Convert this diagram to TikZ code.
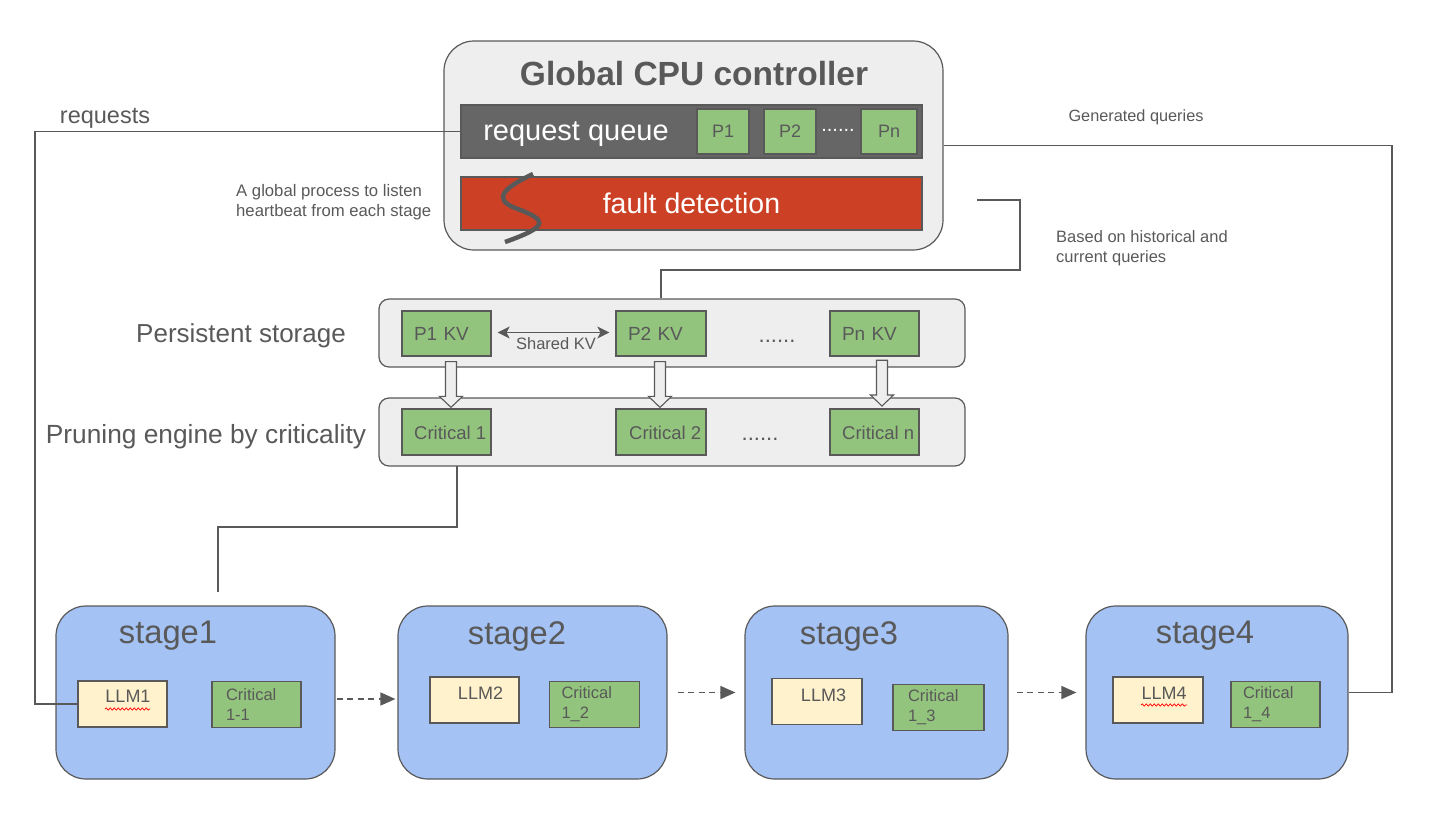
\documentclass[tikz,border=0pt]{standalone}
\usepackage{fontspec}
\setmainfont{Liberation Sans}
\usetikzlibrary{arrows.meta,calc,decorations.pathmorphing}
\definecolor{ln}{HTML}{595959}
\definecolor{panel}{HTML}{EEEEEE}
\definecolor{dkg}{HTML}{666666}
\definecolor{redbar}{HTML}{CC4125}
\definecolor{grn}{HTML}{93C47D}
\definecolor{blu}{HTML}{A4C2F4}
\definecolor{yel}{HTML}{FFF2CC}
\begin{document}
\begin{tikzpicture}[x=1pt,y=-1pt,
  box/.style={draw=ln, line width=1.2pt, inner sep=0pt, rectangle},
  panelbox/.style={box, fill=panel},
  pbox/.style={box, fill=grn, minimum height=45pt, text=ln, font=\fontsize{18}{21}\selectfont},
  kv/.style={box, fill=grn, minimum height=45pt, inner xsep=12pt, align=left, text=ln, font=\fontsize{19}{22}\selectfont},
  greenbox/.style={box, fill=grn, minimum height=46pt},
  crit/.style={box, fill=grn, minimum height=46pt, inner xsep=14pt, align=left, text=ln, font=\fontsize{16.5}{20}\selectfont},
  llm/.style={box, fill=yel, minimum width=89pt, minimum height=46pt},
  stagebox/.style={box, fill=blu, rounded corners=30pt, minimum height=173pt},
  lbl/.style={text=ln, inner sep=0pt},
  conn/.style={draw=ln, line width=1.3pt},
  dashconn/.style={draw=ln, line width=1.6pt, dash pattern=on 6pt off 4.5pt, -{Triangle[length=15pt,width=13pt]}},
  barrow/.style={draw=ln, line width=1.1pt, fill=panel, line join=miter},
  squig/.style={draw=red, line width=0.7pt, decorate, decoration={snake, amplitude=1.1pt, segment length=4pt}}
]
\useasboundingbox (0,0) rectangle (1432,822);

% ---- Global controller
\node[panelbox, rounded corners=30pt, minimum width=499pt, minimum height=209pt] (ctrl) at (693.5,145.5) {};
\node[lbl, font=\bfseries\fontsize{33.5}{38}\selectfont] (title) at (694,74) {Global CPU controller};
\node[box, fill=dkg, minimum width=461pt, minimum height=53pt] (queue) at (691.5,131.5) {};
\node[text=white, inner sep=0pt, font=\fontsize{29}{33}\selectfont] (qtxt) at (576,134) {request queue};
\node[pbox, minimum width=52pt] (p1) at (723,131.5) {P1};
\node[pbox, minimum width=52pt] (p2) at (790,131.5) {P2};
\node[text=white, inner sep=0pt, anchor=base, font=\fontsize{20}{22}\selectfont] (qdots) at (838,131) {......};
\node[pbox, minimum width=56pt] (pn) at (889,131.5) {Pn};
\node[box, fill=redbar, minimum width=461pt, minimum height=53pt, text=white, font=\fontsize{28.5}{32}\selectfont] (fault) at (691.5,203.5) {fault detection};
\draw[ln, line width=4.5pt] (533,174) .. controls (508,186) and (490,198) .. (515,208) .. controls (548,220) and (550,226) .. (505,242);

% ---- side labels
\node[lbl, font=\fontsize{23.5}{27}\selectfont] (req) at (105,118) {requests};
\node[lbl, font=\fontsize{16.3}{20}\selectfont] (gen) at (1136,117) {Generated queries};
\node[lbl, anchor=west, align=left, font=\fontsize{16.7}{20}\selectfont] (glob) at (236,202) {A global process to listen\\heartbeat from each stage};
\node[lbl, anchor=west, align=left, font=\fontsize{16.5}{20}\selectfont] (hist) at (1056,248) {Based on historical and\\current queries};

% ---- persistent storage
\node[panelbox, rounded corners=10pt, minimum width=586pt, minimum height=68pt] (ps) at (672,333) {};
\node[lbl, font=\fontsize{26}{30}\selectfont] (pslbl) at (241,336) {Persistent storage};
\node[kv, text width=65pt] (p1kv) at (446.5,333.5) {P1 KV};
\node[kv, text width=66pt] (p2kv) at (661,333.5) {P2 KV};
\node[lbl, anchor=base, font=\fontsize{22}{24}\selectfont] (psdots) at (777,342) {......};
\node[kv, text width=65pt] (pnkv) at (874.5,333.5) {Pn KV};
\draw[conn, {Stealth[length=12pt,width=12pt,inset=3pt]}-{Stealth[length=12pt,width=12pt,inset=3pt]}] ([xshift=6pt,yshift=1pt]p1kv.east) -- ([xshift=-6pt,yshift=1pt]p2kv.west);
\node[lbl, font=\fontsize{16.5}{18}\selectfont] (shared) at (556,344) {Shared KV};

% ---- pruning engine
\node[panelbox, rounded corners=10pt, minimum width=586pt, minimum height=68pt] (pe) at (672,432) {};
\node[lbl, font=\fontsize{26.3}{30}\selectfont] (pelbl) at (206,437) {Pruning engine by criticality};
\node[greenbox, minimum width=89pt] (c1) at (446.5,432) {};
\node[greenbox, minimum width=90pt] (c2) at (661,432) {};
\node[greenbox, minimum width=89pt] (cn) at (874.5,432) {};
\node[lbl, anchor=west, font=\fontsize{18.5}{22}\selectfont] (c1t) at (414,432.5) {Critical 1};
\node[lbl, anchor=west, font=\fontsize{18.5}{22}\selectfont] (c2t) at (629,432.5) {Critical 2};
\node[lbl, anchor=west, font=\fontsize{18.5}{22}\selectfont] (cnt) at (842,432.5) {Critical n};
\node[lbl, anchor=base, font=\fontsize{22}{24}\selectfont] (pedots) at (760,440) {......};

% ---- block arrows
\coordinate (a1t) at ($(p1kv.south)+(4.5,5)$);
\coordinate (a1b) at ($(c1.north)+(4.5,-1)$);
\coordinate (a2t) at ($(p2kv.south)+(-1,5)$);
\coordinate (a2b) at ($(c2.north)+(-1,-1)$);
\coordinate (a3t) at ($(pnkv.south)+(7.5,3.6)$);
\coordinate (a3b) at ($(cn.north)+(7.5,-2.4)$);
\foreach \t/\b in {a1t/a1b, a2t/a2b, a3t/a3b}{
  \draw[barrow] ($(\t)+(-5.5,0)$) -- ($(\t)+(5.5,0)$) -- ($(\b)+(5.5,-11)$) -- ($(\b)+(11.5,-11)$) -- (\b) -- ($(\b)+(-11.5,-11)$) -- ($(\b)+(-5.5,-11)$) -- cycle;
}

% ---- stages
\node[stagebox, minimum width=279pt] (s1) at (195.5,692.5) {};
\node[stagebox, minimum width=269pt] (s2) at (532.5,692.5) {};
\node[stagebox, minimum width=263pt] (s3) at (876.5,692.5) {};
\node[stagebox, minimum width=262pt] (s4) at (1217,692.5) {};
\node[lbl, font=\fontsize{32.7}{36}\selectfont] (s1t) at (168,636) {stage1};
\node[lbl, font=\fontsize{32.7}{36}\selectfont] (s2t) at (517,636) {stage2};
\node[lbl, font=\fontsize{32.7}{36}\selectfont] (s3t) at (849,636) {stage3};
\node[lbl, font=\fontsize{32.7}{36}\selectfont] (s4t) at (1205,636) {stage4};

\node[llm] (llm1) at (122.5,704) {};
\node[lbl, font=\fontsize{18}{21}\selectfont] (llm1t) at (128,696) {LLM1};
\draw[squig] (105,709) -- (150,709);
\node[crit, text width=61pt] (k1) at (256.5,704.5) {Critical\\1-1};

\node[llm] (llm2) at (474.5,700) {};
\node[lbl, font=\fontsize{18}{21}\selectfont] (llm2t) at (480.5,693) {LLM2};
\node[crit, inner xsep=12pt, text width=66pt] (k2) at (594.5,704.5) {Critical\\1\_2};

\node[llm, minimum width=90pt] (llm3) at (817,701.5) {};
\node[lbl, font=\fontsize{18}{21}\selectfont] (llm3t) at (823.5,695) {LLM3};
\node[crit, inner xsep=15pt, text width=61pt] (k3) at (938.5,707.5) {Critical\\1\_3};

\node[llm, minimum width=90pt] (llm4) at (1158,700) {};
\node[lbl, font=\fontsize{18}{21}\selectfont] (llm4t) at (1164,693) {LLM4};
\draw[squig] (1141,705) -- (1187,705);
\node[crit, inner xsep=12pt, text width=65pt] (k4) at (1275.5,704.5) {Critical\\1\_4};

% ---- connectors
\draw[conn] (queue.west) -- (35,131.5) |- (llm1.west);
\draw[conn] (ctrl.east) -- (1392,145.5) |- (s4.east);
\coordinate (fdend) at (977,200);
\draw[conn] (fdend) -| (1020,270) -| (p2kv.north |- ps.north);
\coordinate (pebot) at (457,466);
\coordinate (s1top) at (218,592);
\draw[conn] (pebot) -- (457,527) -| (s1top);
\draw[dashconn] ([xshift=1pt,yshift=-6.5pt]s1.east) -- ([xshift=-2pt,yshift=-6.5pt]s2.west);
\draw[dashconn] ([xshift=10pt]s2.east) -- ([xshift=-9pt]s3.west);
\draw[dashconn] ([xshift=8pt]s3.east) -- ([xshift=-9pt]s4.west);
\end{tikzpicture}
\end{document}
